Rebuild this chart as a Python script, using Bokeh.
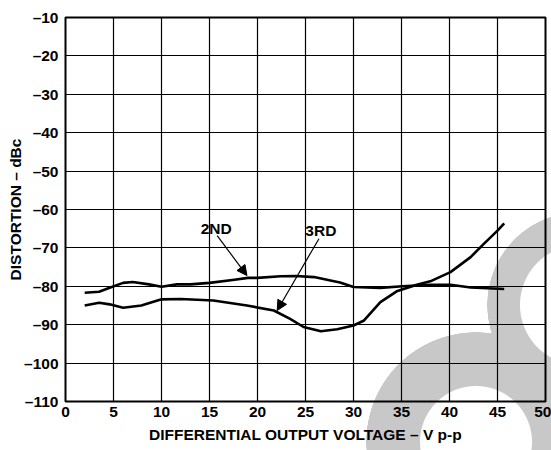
from bokeh.plotting import figure
from bokeh.models import FixedTicker, Arrow, NormalHead, Label, Range1d
from bokeh.embed import file_html
from bokeh.resources import INLINE

# ---- data ----
x_ticks = [0, 5, 10, 15, 20, 25, 30, 35, 40, 45, 50]
y_ticks = [-110, -100, -90, -80, -70, -60, -50, -40, -30, -20, -10]
y_tick_labels = ["–110", "–100", "–90", "–80", "–70", "–60", "–50", "–40", "–30", "–20", "–10"]

second_x = [2, 3.5, 4.6, 6, 7, 8.7, 10, 11.6, 13, 15, 17.6, 19, 20, 22.4, 24, 25.9,
            27.6, 28.6, 30, 32.8, 35.1, 38, 40.1, 42.2, 45.7]
second_y = [-81.7, -81.4, -80.4, -79.1, -78.9, -79.5, -80.1, -79.5, -79.5, -79.1, -78.3,
            -77.8, -77.8, -77.4, -77.3, -77.6, -78.5, -79.0, -80.2, -80.4, -80.0, -79.6,
            -79.6, -80.3, -80.7]

third_x = [2, 3.5, 4.6, 6, 7.9, 10, 12, 15.4, 18.9, 21.7, 23.4, 24.8, 26.6, 28.3, 30,
           31.1, 32.8, 34.5, 36.6, 38, 40.1, 42.2, 43.6, 45, 45.7]
third_y = [-85.0, -84.3, -84.7, -85.6, -85.0, -83.4, -83.3, -83.7, -85.0, -86.3, -88.5,
           -90.6, -91.7, -91.2, -90.2, -88.9, -84.1, -81.3, -79.6, -78.7, -76.3, -72.4,
           -68.9, -65.5, -63.6]

FONT = "Liberation Sans"
GREY = "#c8c8c8"

# decorative background watermark (two grey rings), drawn by CSS behind a transparent canvas
def ring_css(cx, cy, r_in, r_out):
    return (f"radial-gradient(circle {r_out}px at {cx}px {cy}px, "
            f"rgba(200,200,200,0) {r_in - 0.5}px, {GREY} {r_in + 0.5}px, "
            f"{GREY} {r_out - 0.5}px, rgba(200,200,200,0) {r_out}px)")

watermark = ", ".join([ring_css(580, 305, 60, 93), ring_css(476, 442, 56, 110)])

p = figure(width=551, height=450, output_backend="svg", toolbar_location=None,
           x_range=Range1d(0, 50), y_range=Range1d(-110, -10),
           min_border_left=65, min_border_right=6, min_border_top=17, min_border_bottom=49,
           styles={"background-color": "white", "background-image": watermark})

p.background_fill_alpha = 0
p.border_fill_alpha = 0
p.outline_line_color = "black"
p.outline_line_width = 2

# ---- grid ----
p.xaxis.ticker = FixedTicker(ticks=x_ticks)
p.yaxis.ticker = FixedTicker(ticks=y_ticks)
p.xgrid.grid_line_color = "black"
p.ygrid.grid_line_color = "black"
p.xgrid.grid_line_width = 1.2
p.ygrid.grid_line_width = 1.2
p.xgrid.grid_line_alpha = 1.0
p.ygrid.grid_line_alpha = 1.0

# ---- axes ----
p.yaxis.major_label_overrides = {t: s for t, s in zip(y_ticks, y_tick_labels)}
for ax in (p.xaxis[0], p.yaxis[0]):
    ax.axis_line_color = None
    ax.major_tick_line_color = None
    ax.minor_tick_line_color = None
    ax.major_tick_out = 0
    ax.major_tick_in = 0
    ax.major_label_text_font = FONT
    ax.major_label_text_font_style = "bold"
    ax.major_label_text_font_size = "15.5px"
    ax.major_label_text_color = "black"
    ax.axis_label_text_font = FONT
    ax.axis_label_text_font_style = "bold"
    ax.axis_label_text_font_size = "15.5px"
    ax.axis_label_text_color = "black"

p.xaxis.axis_label = "DIFFERENTIAL OUTPUT VOLTAGE – V p-p"
p.yaxis.axis_label = "DISTORTION – dBc"
p.xaxis.major_label_standoff = 5
p.xaxis.axis_label_standoff = 6
p.yaxis.major_label_standoff = 7
p.yaxis.axis_label_standoff = -3

# ---- curves ----
p.line(second_x, second_y, line_color="black", line_width=2.6, line_join="round")
p.line(third_x, third_y, line_color="black", line_width=2.6, line_join="round")

# ---- annotations ----
p.add_layout(Arrow(end=NormalHead(size=10, fill_color="black", line_color="black"),
                   x_start=15.8, y_start=-66.8, x_end=18.9, y_end=-77.2,
                   line_color="black", line_width=1.2))
p.add_layout(Arrow(end=NormalHead(size=10, fill_color="black", line_color="black"),
                   x_start=26.4, y_start=-67.6, x_end=22.05, y_end=-86.3,
                   line_color="black", line_width=1.2))
for txt, lx, ly in [("2ND", 15.7, -65.0), ("3RD", 26.6, -65.5)]:
    p.add_layout(Label(x=lx, y=ly, text=txt, text_align="center", text_baseline="middle",
                       text_font=FONT, text_font_style="bold", text_font_size="15.5px",
                       text_color="black"))

open("out.html", "w").write(file_html(p, INLINE))
